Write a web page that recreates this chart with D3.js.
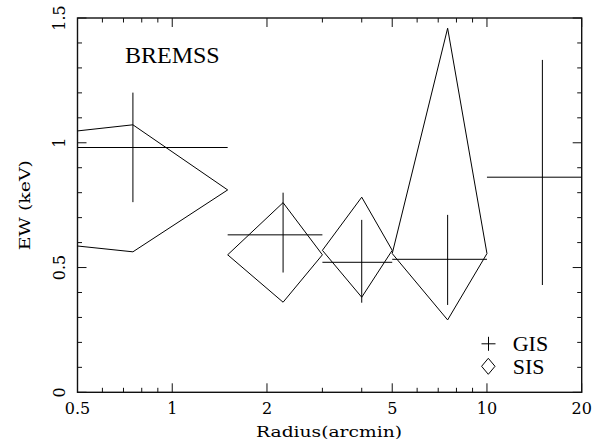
<!DOCTYPE html>
<html>
<head>
<meta charset="utf-8">
<script src="https://cdn.jsdelivr.net/npm/d3@7"></script>
<style>
  html, body { margin: 0; padding: 0; background: #fff; }
  svg { display: block; }
  .tick-label, .axis-title { font-family: "DejaVu Serif", serif; }
  .serif-label { font-family: "Liberation Serif", "Times New Roman", Times, serif; }
</style>
</head>
<body>
<svg id="chart" width="599" height="447"></svg>
<script>
// GIS: radial bins with x (bin edges) and y (error) ranges
const gisR    = [0.75, 2.25, 4, 7.5, 15];
const gisRlo  = [0.5, 1.5, 3, 5, 10];
const gisRhi  = [1.5, 3, 5, 10, 20];
const gisEW   = [0.981, 0.631, 0.521, 0.533, 0.862];
const gisEWlo = [0.762, 0.480, 0.359, 0.350, 0.430];
const gisEWhi = [1.201, 0.800, 0.691, 0.711, 1.332];

// SIS: drawn as diamonds spanning the same kinds of ranges
const sisR    = [0.75, 2.25, 4, 7.5];
const sisRlo  = [0.01, 1.5, 3, 5];
const sisRhi  = [1.5, 3, 5, 10];
const sisEW   = [0.811, 0.551, 0.569, 0.556];
const sisEWlo = [0.563, 0.361, 0.381, 0.290];
const sisEWhi = [1.072, 0.760, 0.782, 1.459];

const xMajor = [0.5, 1, 2, 5, 10, 20];
const xMinor = [0.6, 0.7, 0.8, 0.9, 3, 4, 6, 7, 8, 9];
const yMajor = [0, 0.5, 1, 1.5];
const yMinor = [0.1, 0.2, 0.3, 0.4, 0.6, 0.7, 0.8, 0.9, 1.1, 1.2, 1.3, 1.4];

const svg = d3.select("#chart");
const L = 77.5, R = 581.7, T = 18, B = 392.3;

const x = d3.scaleLog().domain([0.5, 20]).range([L, R]);
const y = d3.scaleLinear().domain([0, 1.5]).range([B, T]);

svg.append("defs").append("clipPath").attr("id", "plotClip")
  .append("rect").attr("x", L).attr("y", T).attr("width", R - L).attr("height", B - T);

// frame
svg.append("rect")
  .attr("x", L).attr("y", T).attr("width", R - L).attr("height", B - T)
  .attr("fill", "none").attr("stroke", "#111").attr("stroke-width", 1.4);

// inward ticks on all four sides
const ticks = svg.append("g").attr("stroke", "#111").attr("stroke-width", 1);
function xTicks(vals, len) {
  vals.forEach(v => {
    ticks.append("line").attr("x1", x(v)).attr("x2", x(v)).attr("y1", B).attr("y2", B - len);
    ticks.append("line").attr("x1", x(v)).attr("x2", x(v)).attr("y1", T).attr("y2", T + len);
  });
}
function yTicks(vals, len) {
  vals.forEach(v => {
    ticks.append("line").attr("x1", L).attr("x2", L + len).attr("y1", y(v)).attr("y2", y(v));
    ticks.append("line").attr("x1", R).attr("x2", R - len).attr("y1", y(v)).attr("y2", y(v));
  });
}
xTicks(xMajor, 9); xTicks(xMinor, 4.5);
yTicks(yMajor, 9); yTicks(yMinor, 4.5);

// tick labels
svg.append("g").selectAll("text").data(xMajor).join("text")
  .attr("class", "tick-label")
  .attr("x", d => x(d)).attr("y", 414)
  .attr("text-anchor", "middle")
  .style("font-size", "16px")
  .text(d => d3.format("~g")(d));

svg.append("g").selectAll("text").data(yMajor).join("text")
  .attr("class", "tick-label")
  .attr("transform", d => `translate(65,${y(d)}) rotate(-90)`)
  .attr("text-anchor", "middle")
  .style("font-size", "16px")
  .text(d => d3.format("~g")(d));

// axis titles
svg.append("text")
  .attr("class", "axis-title")
  .attr("x", (256 + 402) / 2).attr("y", 437)
  .attr("text-anchor", "middle")
  .style("font-size", "15px")
  .attr("textLength", 146).attr("lengthAdjust", "spacingAndGlyphs")
  .text("Radius(arcmin)");

svg.append("text")
  .attr("class", "axis-title")
  .attr("transform", `translate(30,${(T + B) / 2}) rotate(-90)`)
  .attr("text-anchor", "middle")
  .style("font-size", "14px")
  .attr("textLength", 90).attr("lengthAdjust", "spacingAndGlyphs")
  .text("EW (keV)");

// model label
svg.append("text")
  .attr("class", "serif-label")
  .attr("x", 125).attr("y", 63.3)
  .style("font-size", "24px")
  .text("BREMSS");

const plot = svg.append("g").attr("clip-path", "url(#plotClip)")
  .attr("fill", "none").attr("stroke", "#000").attr("stroke-width", 1);

// SIS diamonds
const sis = d3.range(sisR.length).map(i => ({
  r: sisR[i], rlo: sisRlo[i], rhi: sisRhi[i],
  v: sisEW[i], vlo: sisEWlo[i], vhi: sisEWhi[i]
}));
plot.selectAll("path.sis").data(sis).join("path")
  .attr("class", "sis")
  .attr("d", d => d3.line()([
    [x(d.rlo), y(d.v)], [x(d.r), y(d.vhi)], [x(d.rhi), y(d.v)], [x(d.r), y(d.vlo)]
  ]) + "Z");

// GIS error crosses
const gis = d3.range(gisR.length).map(i => ({
  r: gisR[i], rlo: gisRlo[i], rhi: gisRhi[i],
  v: gisEW[i], vlo: gisEWlo[i], vhi: gisEWhi[i]
}));
const cross = plot.selectAll("g.gis").data(gis).join("g").attr("class", "gis");
cross.append("line")
  .attr("x1", d => x(d.rlo)).attr("x2", d => x(d.rhi))
  .attr("y1", d => y(d.v)).attr("y2", d => y(d.v));
cross.append("line")
  .attr("x1", d => x(d.r)).attr("x2", d => x(d.r))
  .attr("y1", d => y(d.vlo)).attr("y2", d => y(d.vhi));

// legend
const leg = svg.append("g");
leg.append("path")
  .attr("d", "M481.5,343.8H495.5M488.5,336.8V350.8")
  .attr("stroke", "#000").attr("stroke-width", 1).attr("fill", "none");
leg.append("path")
  .attr("d", "M488.3,358.3L495,366.3L488.3,374.3L481.6,366.3Z")
  .attr("stroke", "#000").attr("stroke-width", 1).attr("fill", "none");
leg.append("text").attr("class", "serif-label").attr("x", 512.7).attr("y", 351)
  .style("font-size", "22px").text("GIS");
leg.append("text").attr("class", "serif-label").attr("x", 512.7).attr("y", 374.3)
  .style("font-size", "22px").text("SIS");
</script>
</body>
</html>
